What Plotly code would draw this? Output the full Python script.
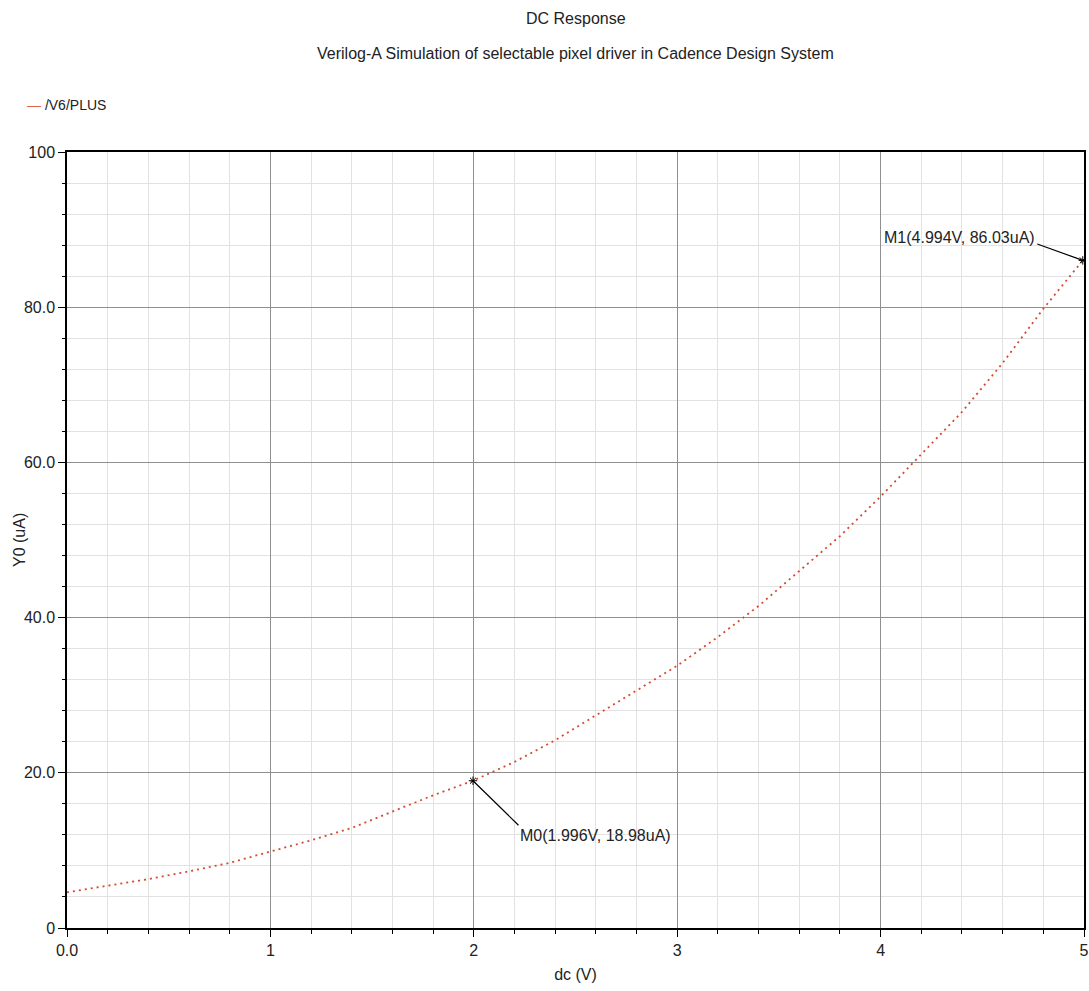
import plotly.graph_objects as go

# DC sweep of the pixel driver: sweep voltage (V) vs. output current (uA)
dc_volts = [0.0, 0.2, 0.4, 0.6, 0.8, 1.0, 1.2, 1.4, 1.6, 1.8, 1.996, 2.2, 2.4, 2.6,
            2.8, 3.0, 3.2, 3.4, 3.6, 3.8, 4.0, 4.2, 4.4, 4.6, 4.8, 4.994]
y0_uA = [4.6, 5.45, 6.3, 7.3, 8.4, 9.85, 11.3, 12.9, 15.0, 17.1, 18.98, 21.4, 24.2, 27.4,
         30.5, 33.8, 37.5, 41.5, 46.0, 50.5, 55.6, 61.0, 66.5, 72.8, 79.8, 86.03]

# Measurement markers
marker_names = ["M0", "M1"]
marker_volts = [1.996, 4.994]
marker_uA = [18.98, 86.03]

x_tickvals = [0, 1, 2, 3, 4, 5]
x_ticktext = ["0.0", "1", "2", "3", "4", "5"]
y_tickvals = [0, 20, 40, 60, 80, 100]
y_ticktext = ["0", "20.0", "40.0", "60.0", "80.0", "100"]

title_text = "DC Response"
subtitle_text = "Verilog-A Simulation of selectable pixel driver in Cadence Design System"
trace_name = "/V6/PLUS"
x_title = "dc (V)"
y_title = "Y0 (uA)"

FONT = "Liberation Sans, Arial, sans-serif"
TXT = "#222222"
CURVE = "#d5492e"

fig = go.Figure()

fig.add_trace(go.Scatter(
    x=dc_volts, y=y0_uA, mode="lines", name=trace_name,
    line=dict(color=CURVE, width=1.8, dash="2px,4px"),
    showlegend=False, hoverinfo="x+y",
))

fig.add_trace(go.Scatter(
    x=marker_volts, y=marker_uA, mode="markers", showlegend=False,
    marker=dict(symbol="asterisk-open", size=7, color="black",
                line=dict(color="black", width=1)),
    hoverinfo="skip",
))

annotations = []
# titles
annotations.append(dict(text=title_text, xref="paper", yref="paper", x=0.5, y=1,
                        xanchor="center", yanchor="middle", yshift=134,
                        showarrow=False, font=dict(size=16, color=TXT, family=FONT)))
annotations.append(dict(text=subtitle_text, xref="paper", yref="paper", x=0.5, y=1,
                        xanchor="center", yanchor="middle", yshift=99,
                        showarrow=False, font=dict(size=16, color=TXT, family=FONT)))
# legend entry
annotations.append(dict(text=f'<span style="color:#e0604a">\u2014</span> {trace_name}',
                        xref="paper", yref="paper", x=0, y=1,
                        xanchor="left", yanchor="middle", xshift=-42, yshift=47,
                        showarrow=False, font=dict(size=14, color=TXT, family=FONT)))
# y axis title, rotated
annotations.append(dict(text=y_title, xref="paper", yref="paper", x=0, y=0.5,
                        xanchor="center", yanchor="middle", xshift=-48, textangle=-90,
                        showarrow=False, font=dict(size=16, color=TXT, family=FONT)))

# marker labels and leader lines
offsets = {"M0": dict(ax=47, ay=46, xanchor="left", xshift=45, yshift=-55),
           "M1": dict(ax=-47, ay=-17, xanchor="right", xshift=-46, yshift=23)}
for name, v, i in zip(marker_names, marker_volts, marker_uA):
    o = offsets[name]
    annotations.append(dict(x=v, y=i, xref="x", yref="y", text=" ",
                            showarrow=True, arrowhead=0, arrowwidth=1.2,
                            arrowcolor="black", ax=o["ax"], ay=o["ay"],
                            font=dict(size=1)))
    annotations.append(dict(x=v, y=i, xref="x", yref="y",
                            text=f"{name}({v:.3f}V, {i:.2f}uA)",
                            showarrow=False, xanchor=o["xanchor"], yanchor="middle",
                            xshift=o["xshift"], yshift=o["yshift"],
                            font=dict(size=16, color=TXT, family=FONT)))

axis_common = dict(
    showline=True, linecolor="black", linewidth=1.5, mirror=True,
    ticks="outside", ticklen=7, tickcolor="black", tickwidth=1.2,
    showgrid=True, gridcolor="#8f8f8f", gridwidth=1.2,
    zeroline=False, automargin=False,
    tickfont=dict(size=16, color=TXT, family=FONT),
)

fig.update_xaxes(
    range=[0, 5], tickvals=x_tickvals, ticktext=x_ticktext,
    minor=dict(dtick=0.2, showgrid=True, gridcolor="#e2e2e2", gridwidth=1.2,
               ticks="outside", ticklen=4, tickcolor="black"),
    title=dict(text=x_title, font=dict(size=16, color=TXT, family=FONT), standoff=11),
    **axis_common,
)
fig.update_yaxes(
    range=[0, 100], tickvals=y_tickvals, ticktext=y_ticktext,
    minor=dict(dtick=4, showgrid=True, gridcolor="#e2e2e2", gridwidth=1.2,
               ticks="outside", ticklen=3, tickcolor="black"),
    **axis_common,
)

fig.update_layout(
    width=1089, height=991,
    margin=dict(l=67, r=5, t=152, b=63),
    paper_bgcolor="white", plot_bgcolor="white",
    annotations=annotations,
    showlegend=False,
)

fig.write_html("out.html")
